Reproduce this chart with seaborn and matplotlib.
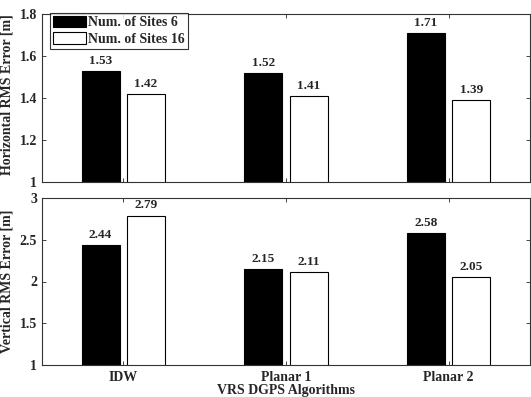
import pandas as pd
import matplotlib.pyplot as plt
import seaborn as sns
from matplotlib.ticker import FuncFormatter

# Data
algorithms = ['IDW', 'Planar 1', 'Planar 2']
site_labels = ['Num. of Sites 6', 'Num. of Sites 16']
horiz_6 = [1.53, 1.52, 1.71]
horiz_16 = [1.42, 1.41, 1.39]
vert_6 = [2.44, 2.15, 2.58]
vert_16 = [2.79, 2.11, 2.05]

horiz = pd.DataFrame({
    'alg': algorithms * 2,
    'sites': [site_labels[0]] * 3 + [site_labels[1]] * 3,
    'err': horiz_6 + horiz_16,
})
vert = pd.DataFrame({
    'alg': algorithms * 2,
    'sites': [site_labels[0]] * 3 + [site_labels[1]] * 3,
    'err': vert_6 + vert_16,
})

sns.set_style('ticks')
plt.rcParams['font.family'] = ['Liberation Serif', 'DejaVu Serif']
plt.rcParams['font.weight'] = 'bold'
plt.rcParams['font.size'] = 10

fig = plt.figure(figsize=(5.31, 3.97), dpi=100)
ax1 = fig.add_axes([42 / 531, 1 - 182 / 397, 488 / 531, 168 / 397])
ax2 = fig.add_axes([42 / 531, 1 - 365 / 397, 488 / 531, 167 / 397])

palette = {site_labels[0]: 'black', site_labels[1]: 'white'}
gfmt = FuncFormatter(lambda v, p: f'{v:g}')

for ax, df, ylim, yticks, ylab in [
    (ax1, horiz, (1, 1.8), [1, 1.2, 1.4, 1.6, 1.8], 'Horizontal RMS Error [m]'),
    (ax2, vert, (1, 3), [1, 1.5, 2, 2.5, 3], 'Vertical RMS Error [m]'),
]:
    sns.barplot(data=df, x='alg', y='err', hue='sites', palette=palette,
                width=0.56, gap=0.167, edgecolor='black', linewidth=0.8,
                ax=ax, legend=(ax is ax1))
    for c in ax.containers:
        ax.bar_label(c, fmt='%.2f', padding=3, fontsize=9.5, fontweight='bold')
    ax.set_xlim(-0.5, 2.5)
    ax.set_ylim(*ylim)
    ax.set_yticks(yticks)
    ax.yaxis.set_major_formatter(gfmt)
    ax.set_ylabel(ylab, fontsize=10, fontweight='bold')
    ax.tick_params(direction='in', top=True, right=True, length=3, width=0.6, labelsize=10)
    for s in ax.spines.values():
        s.set_linewidth(0.8)
        s.set_color('#333333')

ax1.set_xlabel('')
ax1.set_xticklabels([])
ax2.set_xlabel('VRS DGPS Algorithms', fontsize=10, fontweight='bold', labelpad=0)
ax2.tick_params(axis='x', pad=4)
for lbl in ax2.get_xticklabels():
    lbl.set_fontweight('bold')

leg = ax1.legend(loc='upper left', bbox_to_anchor=(8 / 488, 1.005),
                 frameon=True, fancybox=False, fontsize=10, borderaxespad=0,
                 handlelength=2.4, handleheight=0.9, labelspacing=0.2,
                 borderpad=0.2, handletextpad=0.15)
leg.get_frame().set_edgecolor('black')
leg.get_frame().set_linewidth(0.8)
for t in leg.get_texts():
    t.set_fontweight('bold')

ax1.yaxis.set_label_coords(-0.058, 0.52)
ax2.yaxis.set_label_coords(-0.058, 0.5)

fig.savefig('out.png', dpi=100)
